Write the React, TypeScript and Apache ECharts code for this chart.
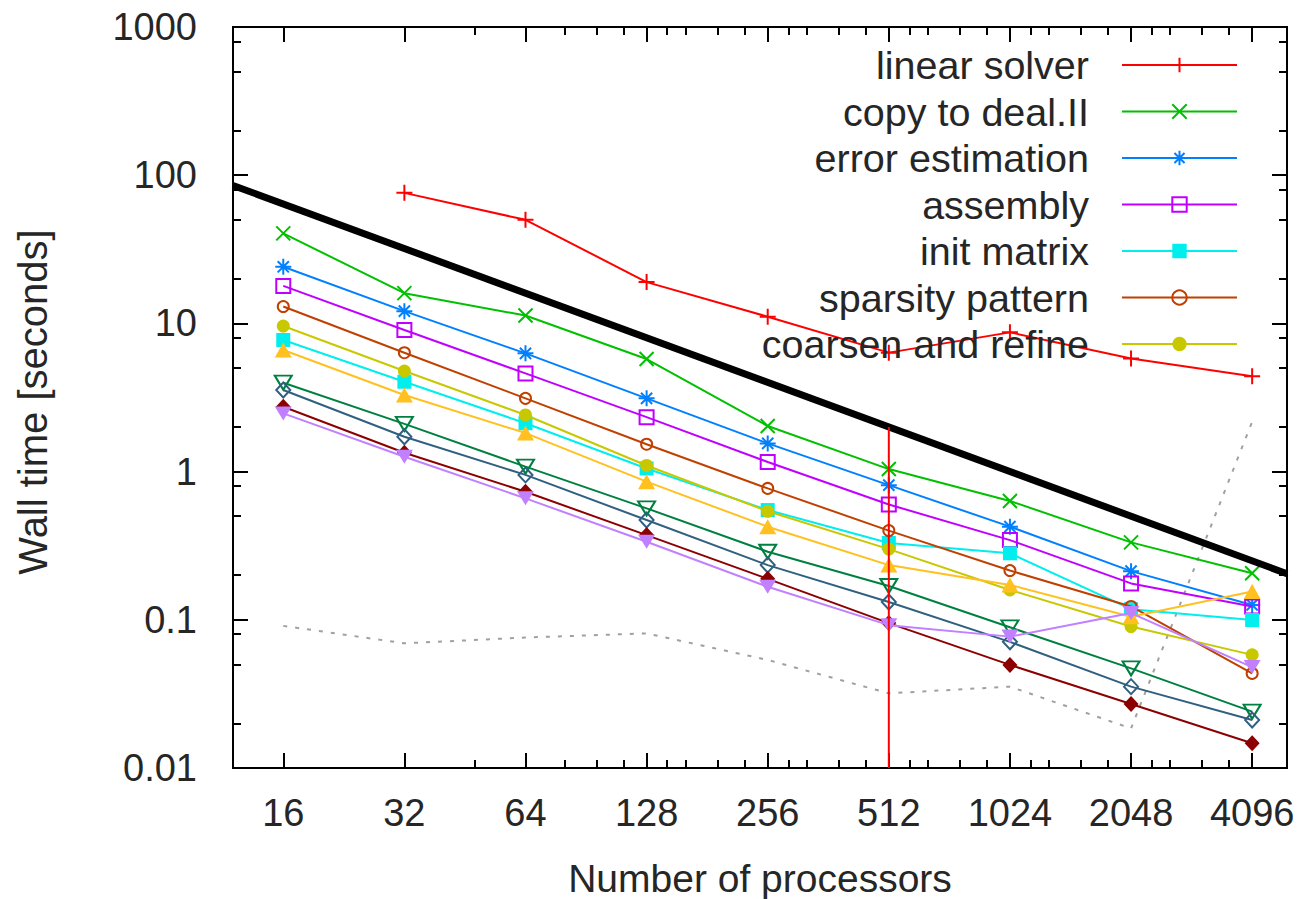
import React, { useEffect, useRef } from "react";
import * as echarts from "echarts";

// Number of processors on the x axis (log2 scale) and the timing categories (seconds)
const procs = [16, 32, 64, 128, 256, 512, 1024, 2048, 4096];

const linearSolver = [null, 76, 50, 19, 11.1, 6.35, 8.7, 5.8, 4.4];
const copyToDealII = [40.5, 16.0, 11.3, 5.75, 2.03, 1.04, 0.634, 0.333, 0.206];
const errorEstimation = [24.1, 12.1, 6.28, 3.12, 1.55, 0.81, 0.425, 0.213, 0.126];
const assembly = [17.9, 9.02, 4.6, 2.33, 1.16, 0.6, 0.345, 0.176, 0.123];
const initMatrix = [7.73, 4.04, 2.12, 1.05, 0.55, 0.33, 0.281, 0.118, 0.0997];
const sparsityPattern = [13.0, 6.34, 3.12, 1.53, 0.77, 0.4, 0.215, 0.123, 0.0435];
const coarsenAndRefine = [9.6, 4.77, 2.41, 1.1, 0.54, 0.3, 0.159, 0.09, 0.058];
const setupSystem = [6.62, 3.29, 1.82, 0.855, 0.425, 0.234, 0.172, 0.105, 0.155];
const distributeDofs = [3.98, 2.1, 1.08, 0.565, 0.288, 0.169, 0.089, 0.047, 0.024];
const hangingNodes = [3.55, 1.72, 0.95, 0.471, 0.234, 0.132, 0.071, 0.0354, 0.0211];
const boundaryValues = [2.74, 1.34, 0.731, 0.373, 0.189, 0.095, 0.0496, 0.027, 0.0147];
const interpolation = [2.47, 1.26, 0.66, 0.336, 0.167, 0.092, 0.077, 0.111, 0.048];
const output = [0.091, 0.0694, 0.0759, 0.081, 0.0536, 0.0319, 0.0354, 0.0185, 2.17];

// Ideal scaling reference line and the vertical marker at 512 processors
const idealProcs = [12, 5000];
const idealTime = [85.33, 0.2048];
const markerProcs = [512, 512];
const markerTime = [0.01, 2];

// Axis ranges and ticks
const xRange = [12, 5000];
const yRange = [0.01, 1000];
const xTickValues = [16, 32, 64, 128, 256, 512, 1024, 2048, 4096];
const xTickLabels = ["16", "32", "64", "128", "256", "512", "1024", "2048", "4096"];
const xMinorTicks = [48, 80, 96, 112, 144, 160, 192, 224, 288, 320, 384, 448, 576, 640, 768, 896, 1152, 1280, 1536, 1792, 2304, 2560, 3072, 3584];
const yTickValues = [0.01, 0.1, 1, 10, 100, 1000];
const yTickLabels = ["0.01", "0.1", "1", "10", "100", "1000"];
const yMinorTicks = [0.02, 0.05, 0.08, 0.2, 0.5, 0.8, 2, 5, 8, 20, 50, 80, 200, 500, 800];

const FONT = "'Liberation Sans', Arial, sans-serif";
const TEXT = "#262626";

const PLUS = "path://M0,5L10,5M5,0L5,10";
const CROSS = "path://M0,0L10,10M10,0L0,10";
const STAR = "path://M0,5L10,5M5,0L5,10M1.5,1.5L8.5,8.5M8.5,1.5L1.5,8.5";
const TRI_DOWN = "path://M0,0L10,0L5,8.66Z";

const lx = (v: number) => Math.log2(v);
const ly = (v: number) => Math.log10(v);

const nearestLabel = (v: number, values: number[], labels: string[], f: (x: number) => number) => {
  let best = 0;
  values.forEach((t, i) => {
    if (Math.abs(f(t) - v) < Math.abs(f(values[best]) - v)) best = i;
  });
  return labels[best];
};

type SeriesDef = {
  name: string;
  values: (number | null)[];
  color: string;
  symbol: string;
  size: number | number[];
  filled: boolean;
};

const seriesDefs: SeriesDef[] = [
  { name: "linear solver", values: linearSolver, color: "#ff0000", symbol: PLUS, size: 16, filled: false },
  { name: "copy to deal.II", values: copyToDealII, color: "#00c000", symbol: CROSS, size: 14, filled: false },
  { name: "error estimation", values: errorEstimation, color: "#0080ff", symbol: STAR, size: 16, filled: false },
  { name: "assembly", values: assembly, color: "#c000ff", symbol: "rect", size: 14, filled: false },
  { name: "init matrix", values: initMatrix, color: "#00eeee", symbol: "rect", size: 14, filled: true },
  { name: "sparsity pattern", values: sparsityPattern, color: "#c04000", symbol: "circle", size: 11, filled: false },
  { name: "coarsen and refine", values: coarsenAndRefine, color: "#c8c800", symbol: "circle", size: 13, filled: true },
  { name: "setup system", values: setupSystem, color: "#ffc020", symbol: "triangle", size: [17, 15], filled: true },
  { name: "distribute dofs", values: distributeDofs, color: "#008040", symbol: TRI_DOWN, size: [17, 14], filled: false },
  { name: "hanging nodes", values: hangingNodes, color: "#306080", symbol: "diamond", size: [14, 15], filled: false },
  { name: "boundary values", values: boundaryValues, color: "#8b0000", symbol: "diamond", size: [15, 16], filled: true },
  { name: "interpolation", values: interpolation, color: "#c080ff", symbol: TRI_DOWN, size: [17, 14], filled: true },
];

const legendNames = seriesDefs.slice(0, 7).map((d) => d.name);

const toPoints = (xs: number[], ys: (number | null)[]) =>
  xs
    .map((x, i) => (ys[i] == null ? null : [lx(x), ly(ys[i] as number)]))
    .filter((p) => p !== null);

const tickLine = { color: "#000", width: 2 };

function buildOption() {
  const xMin = lx(xRange[0]);
  const xMax = lx(xRange[1]);
  const yMin = ly(yRange[0]);
  const yMax = ly(yRange[1]);

  const xBase = {
    type: "value",
    min: xMin,
    max: xMax,
    splitLine: { show: false },
    axisLine: { show: false, onZero: false },
  };
  const yBase = {
    type: "value",
    min: yMin,
    max: yMax,
    splitLine: { show: false },
    axisLine: { show: false, onZero: false },
  };

  const xMajor = xTickValues.map(lx);
  const xMinor = xMinorTicks.map(lx);
  const yMajor = yTickValues.map(ly);
  const yMinor = yMinorTicks.map(ly);

  const series: any[] = seriesDefs.map((d, i) => ({
    type: "line",
    name: d.name,
    data: toPoints(procs, d.values),
    xAxisIndex: 0,
    yAxisIndex: 0,
    symbol: d.symbol,
    symbolSize: d.size,
    showSymbol: true,
    showAllSymbol: true,
    lineStyle: { color: d.color, width: 2 },
    itemStyle: {
      color: d.filled ? d.color : "rgba(0,0,0,0)",
      borderColor: d.color,
      borderWidth: d.filled ? 0 : 2,
    },
    emphasis: { disabled: true },
    silent: true,
    z: 3 + i,
  }));

  series.push({
    type: "line",
    name: "output",
    data: toPoints(procs, output),
    symbol: "none",
    lineStyle: { color: "#a0a0a0", width: 2, type: [4, 8] },
    silent: true,
    z: 2,
  });
  series.push({
    type: "line",
    name: "ideal scaling",
    data: toPoints(idealProcs, idealTime),
    symbol: "none",
    lineStyle: { color: "#000", width: 7 },
    silent: true,
    z: 20,
  });
  series.push({
    type: "line",
    name: "512 processors",
    data: toPoints(markerProcs, markerTime),
    symbol: "none",
    lineStyle: { color: "#ff0000", width: 2 },
    silent: true,
    z: 21,
  });

  return {
    animation: false,
    backgroundColor: "#ffffff",
    textStyle: { fontFamily: FONT },
    grid: {
      left: 233,
      right: 10,
      top: 27,
      bottom: 131,
      show: true,
      borderColor: "#000",
      borderWidth: 2,
      backgroundColor: "transparent",
      containLabel: false,
      outerBoundsMode: "none",
    },
    legend: {
      data: legendNames,
      orient: "vertical",
      align: "right",
      right: 59,
      top: 45,
      padding: 0,
      itemGap: 6.5,
      itemWidth: 115,
      itemHeight: 18,
      selectedMode: false,
      textStyle: {
        fontFamily: FONT,
        fontSize: 39.5,
        color: TEXT,
        lineHeight: 40,
        padding: [0, 28, 0, 0],
      },
    },
    xAxis: [
      {
        ...xBase,
        position: "bottom",
        name: "Number of processors",
        nameLocation: "middle",
        nameGap: 91,
        nameTextStyle: { fontFamily: FONT, fontSize: 39, color: TEXT },
        axisTick: { show: true, inside: true, length: 15, customValues: xMajor, lineStyle: tickLine },
        axisLabel: {
          show: true,
          customValues: xMajor,
          margin: 26,
          fontFamily: FONT,
          fontSize: 38,
          color: TEXT,
          formatter: (v: number) => nearestLabel(v, xTickValues, xTickLabels, lx),
        },
      },
      {
        ...xBase,
        position: "bottom",
        axisTick: { show: true, inside: true, length: 8, customValues: xMinor, lineStyle: tickLine },
        axisLabel: { show: false },
      },
      {
        ...xBase,
        position: "top",
        axisTick: { show: true, inside: true, length: 15, customValues: xMajor, lineStyle: tickLine },
        axisLabel: { show: false },
      },
      {
        ...xBase,
        position: "top",
        axisTick: { show: true, inside: true, length: 8, customValues: xMinor, lineStyle: tickLine },
        axisLabel: { show: false },
      },
    ],
    yAxis: [
      {
        ...yBase,
        position: "left",
        name: "Wall time [seconds]",
        nameLocation: "middle",
        nameRotate: 90,
        nameGap: 180,
        nameTextStyle: { fontFamily: FONT, fontSize: 40, color: TEXT, padding: [0, 9, 0, 0] },
        axisTick: { show: true, inside: true, length: 15, customValues: yMajor, lineStyle: tickLine },
        axisLabel: {
          show: true,
          customValues: yMajor,
          margin: 36,
          fontFamily: FONT,
          fontSize: 38,
          color: TEXT,
          formatter: (v: number) => nearestLabel(v, yTickValues, yTickLabels, ly),
        },
      },
      {
        ...yBase,
        position: "left",
        axisTick: { show: true, inside: true, length: 8, customValues: yMinor, lineStyle: tickLine },
        axisLabel: { show: false },
      },
      {
        ...yBase,
        position: "right",
        axisTick: { show: true, inside: true, length: 15, customValues: yMajor, lineStyle: tickLine },
        axisLabel: { show: false },
      },
      {
        ...yBase,
        position: "right",
        axisTick: { show: true, inside: true, length: 8, customValues: yMinor, lineStyle: tickLine },
        axisLabel: { show: false },
      },
    ],
    series,
  };
}

export default function App() {
  const ref = useRef<HTMLDivElement>(null);

  useEffect(() => {
    if (!ref.current) return;
    const chart = echarts.init(ref.current, undefined, { renderer: "svg" });
    chart.setOption(buildOption() as any);
    return () => chart.dispose();
  }, []);

  return (
    <div
      ref={ref}
      style={{ position: "fixed", left: 0, top: 0, width: 1297, height: 899, background: "#fff" }}
    />
  );
}
